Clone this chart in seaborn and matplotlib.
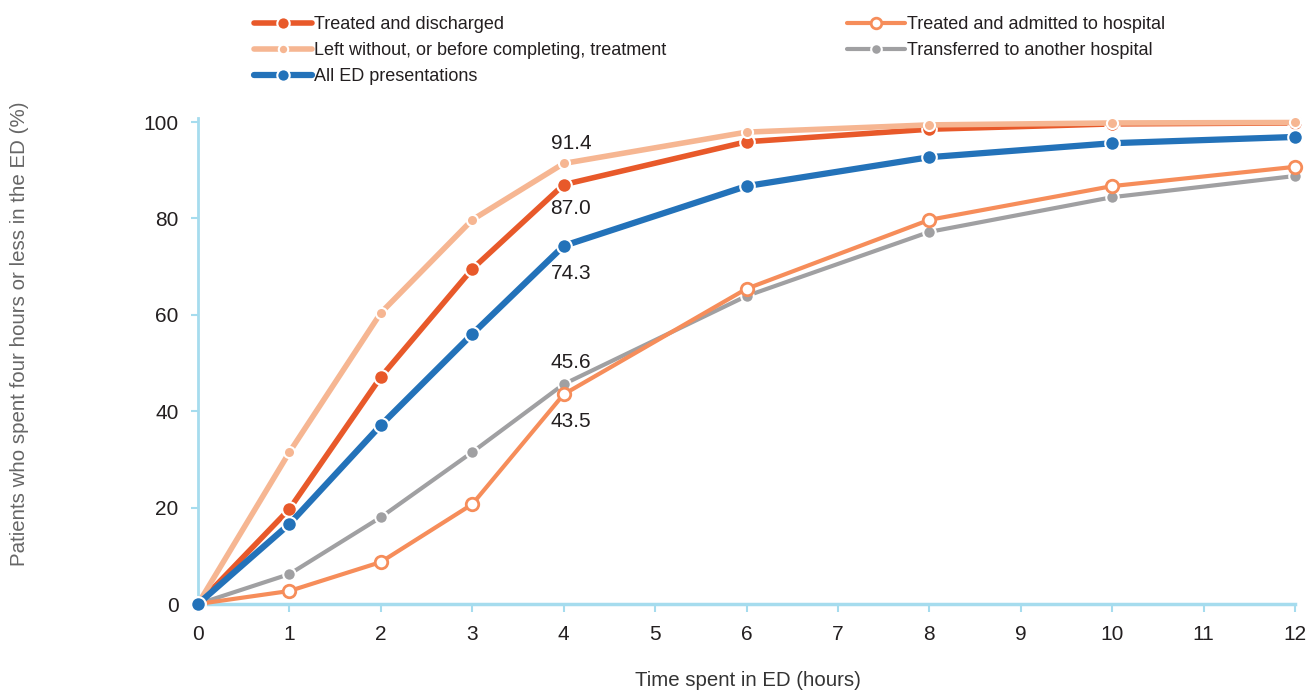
import matplotlib
matplotlib.use("Agg")
import matplotlib.pyplot as plt
import seaborn as sns
import pandas as pd
from matplotlib.lines import Line2D

hours = [0, 1, 2, 3, 4, 6, 8, 10, 12]
treated_discharged = [0, 19.7, 47.1, 69.5, 87.0, 95.9, 98.5, 99.6, 99.8]
left_without = [0, 31.5, 60.4, 79.7, 91.4, 97.9, 99.4, 99.8, 99.9]
all_ed = [0, 16.6, 37.1, 56.0, 74.3, 86.7, 92.7, 95.6, 96.9]
treated_admitted = [0, 2.7, 8.7, 20.7, 43.5, 65.4, 79.7, 86.7, 90.7]
transferred = [0, 6.2, 18.0, 31.5, 45.6, 63.9, 77.2, 84.4, 88.8]

labels = ["Treated and discharged", "Left without, or before completing, treatment",
          "All ED presentations", "Treated and admitted to hospital",
          "Transferred to another hospital"]
annot_vals = [91.4, 87.0, 74.3, 45.6, 43.5]
annot_y = [95.6, 82.0, 68.6, 50.2, 37.8]

sns.set_theme(style="white")
plt.rcParams['font.family'] = ['Liberation Sans', 'DejaVu Sans']

fig = plt.figure(figsize=(13.09, 6.90), dpi=100)
ax = fig.add_axes([198/1309, 86/690, (1295-198)/1309, (604-122)/690])

c_td = "#E8592A"
c_lw = "#F6B692"
c_all = "#2372B9"
c_ta = "#F68D5A"
c_tr = "#A0A0A2"

series = [
    # data, label, color, lw, ms, filled, zorder
    (transferred, labels[4], c_tr, 3.0, 9, True, 2),
    (treated_admitted, labels[3], c_ta, 3.0, 9, False, 3),
    (treated_discharged, labels[0], c_td, 4.0, 10.5, True, 4),
    (left_without, labels[1], c_lw, 4.0, 8, True, 5),
    (all_ed, labels[2], c_all, 4.5, 10.5, True, 6),
]

handles = {}
for data, lab, col, lw, ms, filled, z in series:
    df = pd.DataFrame({"hours": hours, "value": data})
    sns.lineplot(data=df, x="hours", y="value", ax=ax, color=col, lw=lw,
                 marker="o", markersize=ms,
                 markerfacecolor=col if filled else "white",
                 markeredgecolor="white" if filled else col,
                 markeredgewidth=1.5 if filled else 2.0,
                 zorder=z, clip_on=False)
    handles[lab] = Line2D([], [], color=col, lw=lw,
                          marker="o", markersize=ms*0.85,
                          markerfacecolor=col if filled else "white",
                          markeredgecolor="white" if filled else col,
                          markeredgewidth=1.5 if filled else 2.0)

for v, y in zip(annot_vals, annot_y):
    ax.text(4.08, y, f"{v:.1f}", ha="center", va="center", fontsize=15, color="#231F20", zorder=10)

ax.set_xlim(0, 12)
ax.set_ylim(0, 100)
ax.set_xticks(range(0, 13))
ax.set_yticks(range(0, 101, 20))
ax.set_xlabel("")
ax.set_ylabel("")
spine_c = "#A6DCEE"
for s in ["top", "right"]:
    ax.spines[s].set_visible(False)
ax.spines["left"].set_color(spine_c)
ax.spines["left"].set_linewidth(2)
ax.spines["left"].set_bounds(0, 100.8)
ax.spines["bottom"].set_color(spine_c)
ax.spines["bottom"].set_linewidth(2.5)
ax.tick_params(axis="x", direction="out", length=6, width=1.5, color=spine_c,
               pad=9, labelsize=15, labelcolor="#231F20", bottom=True)
ax.tick_params(axis="y", direction="out", length=5, width=1.5, color=spine_c,
               pad=9, labelsize=15, labelcolor="#231F20", left=True)

fig.text(748/1309, 1 - 680/690, "Time spent in ED (hours)", ha="center", va="center",
         fontsize=14.7, color="#333333")
fig.text(20/1309, 1 - 334/690, "Patients who spent four hours or less in the ED (%)",
         ha="center", va="center", rotation=90, fontsize=14.8, color="#666666")

leg_kw = dict(loc="upper left", frameon=False, fontsize=13, handlelength=3.2,
              handletextpad=0.15, labelspacing=0.5, borderpad=0, borderaxespad=0)
leg1 = fig.legend([handles[l] for l in labels[:3]], labels[:3],
                  bbox_to_anchor=(254/1309, 1 - 16/690), **leg_kw)
leg2 = fig.legend([handles[l] for l in labels[3:]], labels[3:],
                  bbox_to_anchor=(847/1309, 1 - 16/690), **leg_kw)
for leg in (leg1, leg2):
    for t in leg.get_texts():
        t.set_color("#231F20")

fig.savefig("out.png", dpi=100)
